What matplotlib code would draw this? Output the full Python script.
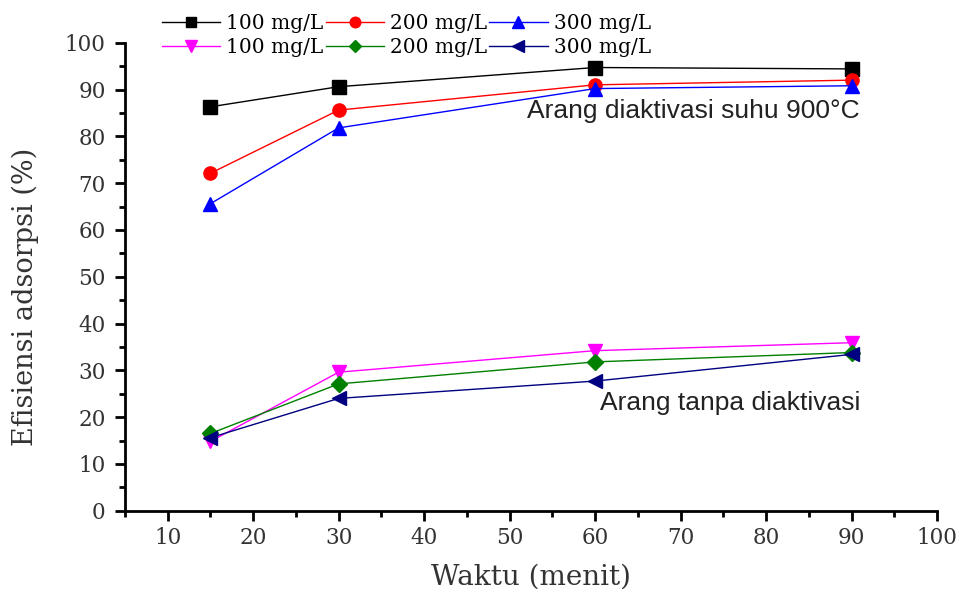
import matplotlib
matplotlib.use('Agg')
import matplotlib.pyplot as plt
from matplotlib.ticker import MultipleLocator

# Data
waktu = [15, 30, 60, 90]
act_100 = [86.3, 90.6, 94.7, 94.4]
act_200 = [72.1, 85.6, 91.0, 92.0]
act_300 = [65.6, 81.8, 90.2, 90.8]
raw_100 = [14.8, 29.6, 34.2, 35.9]
raw_200 = [16.5, 27.1, 31.8, 33.8]
raw_300 = [15.6, 24.0, 27.7, 33.4]
labels = ['100 mg/L', '200 mg/L', '300 mg/L']

serif = 'DejaVu Serif'
sans = 'Liberation Sans'

fig = plt.figure(figsize=(9.62, 5.89), dpi=100)
ax = fig.add_axes([0.1299, 0.1329, 0.8441, 0.7946])

ms = 9.5
h1, = ax.plot(waktu, act_100, color='black', marker='s', ms=ms, lw=1.0, label=labels[0])
h2, = ax.plot(waktu, act_200, color='red', marker='o', ms=ms, lw=1.0, label=labels[1])
h3, = ax.plot(waktu, act_300, color='blue', marker='^', ms=ms + 1, lw=1.0, label=labels[2])
h4, = ax.plot(waktu, raw_100, color='magenta', marker='v', ms=ms + 1, lw=1.0, label=labels[0])
h5, = ax.plot(waktu, raw_200, color='green', marker='D', ms=ms - 1.5, lw=1.0, label=labels[1])
h6, = ax.plot(waktu, raw_300, color='navy', marker='<', ms=ms + 1, lw=1.0, label=labels[2])

ax.set_xlim(5, 100)
ax.set_ylim(0, 100)
ax.xaxis.set_major_locator(MultipleLocator(10))
ax.xaxis.set_minor_locator(MultipleLocator(5))
ax.yaxis.set_major_locator(MultipleLocator(10))
ax.yaxis.set_minor_locator(MultipleLocator(5))
for s in ['top', 'right']:
    ax.spines[s].set_visible(False)
for s in ['left', 'bottom']:
    ax.spines[s].set_linewidth(2.0)
ax.tick_params(which='major', direction='out', length=7, width=2, labelsize=15.5, pad=5)
ax.tick_params(which='minor', direction='out', length=4.5, width=2)
ax.tick_params(axis='y', which='major', pad=7)
for lab in ax.get_xticklabels() + ax.get_yticklabels():
    lab.set_fontfamily(serif)
    lab.set_color('#333333')

ax.set_xlabel('Waktu (menit)', fontfamily=serif, fontsize=20, color='#333333')
ax.set_ylabel('Efisiensi adsorpsi (%)', fontfamily=serif, fontsize=19.5, color='#333333')
ax.yaxis.set_label_coords(-0.123, 0.457)
ax.yaxis.label.set_va('center')
ax.xaxis.label.set_va('center')
ax.xaxis.set_label_coords(0.5, -0.1417)

ax.text(52.0, 85.4, 'Arang diaktivasi suhu 900°C', fontfamily=sans, fontsize=19,
        ha='left', va='center', color='#222222')
ax.text(60.6, 23.0, 'Arang tanpa diaktivasi', fontfamily=sans, fontsize=19,
        ha='left', va='center', color='#222222')

fig.legend(handles=[h1, h4, h2, h5, h3, h6], ncol=3, loc='upper left',
           bbox_to_anchor=(162 / 962, 1 - 14 / 589), frameon=False,
           prop={'family': serif, 'size': 14.5}, handlelength=2.9,
           handletextpad=0.3, columnspacing=0.1, labelspacing=0.25,
           markerscale=0.8, borderpad=0, borderaxespad=0)

fig.savefig('out.png', dpi=100)
